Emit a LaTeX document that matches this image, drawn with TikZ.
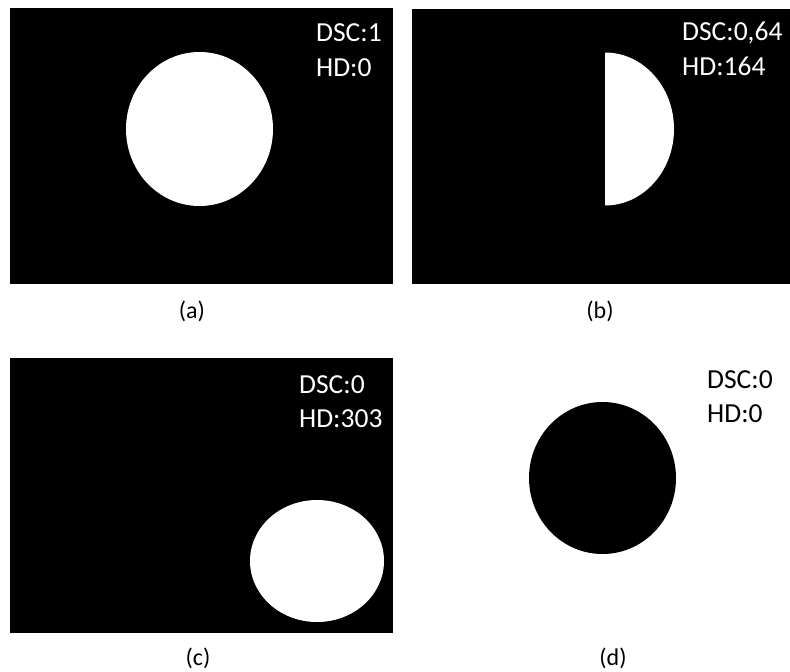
\documentclass[tikz,border=0pt]{standalone}
\usepackage{fontspec}
\setmainfont{Carlito}
\begin{document}
\begin{tikzpicture}[x=1pt,y=-1pt,
  panel/.style={fill=black},
  blob/.style={fill=white},
  hole/.style={fill=black},
  score/.style={text=white,font=\fontsize{27.5}{32}\selectfont,anchor=base west,inner sep=0pt},
  darkscore/.style={score,text=black},
  caption/.style={font=\fontsize{24}{28}\selectfont,anchor=base,inner sep=0pt}]
\useasboundingbox[fill=white] (0,0) rectangle (790,672);

% (a) full overlap
\fill[panel] (10,8) rectangle (393,284);
\fill[blob] (199.5,129) ellipse [x radius=73.5,y radius=77];
\node[score] (a-dsc) at (316,41) {DSC:1};
\node[score] (a-hd) at (316,76) {HD:0};
\node[caption] (a-cap) at (192,318) {(a)};

% (b) half overlap: right half of the disc
\fill[panel] (412,9) rectangle (790,284);
\fill[blob] (605,52.5) arc[start angle=-90,end angle=90,x radius=69,y radius=76.5] -- cycle;
\node[score] (b-dsc) at (682,40) {DSC:0,64};
\node[score] (b-hd) at (682,75) {HD:164};
\node[caption] (b-cap) at (600,318) {(b)};

% (c) no overlap
\fill[panel] (10,358) rectangle (393,633);
\fill[blob] (317,561) ellipse [x radius=67,y radius=61];
\node[score] (c-dsc) at (299,393) {DSC:0};
\node[score] (c-hd) at (299,427) {HD:303};
\node[caption] (c-cap) at (198,665) {(c)};

% (d) empty prediction
\fill[hole] (602.5,478) ellipse [x radius=73.5,y radius=76];
\node[darkscore] (d-dsc) at (707,388) {DSC:0};
\node[darkscore] (d-hd) at (707,422) {HD:0};
\node[caption] (d-cap) at (613,665) {(d)};
\end{tikzpicture}
\end{document}
